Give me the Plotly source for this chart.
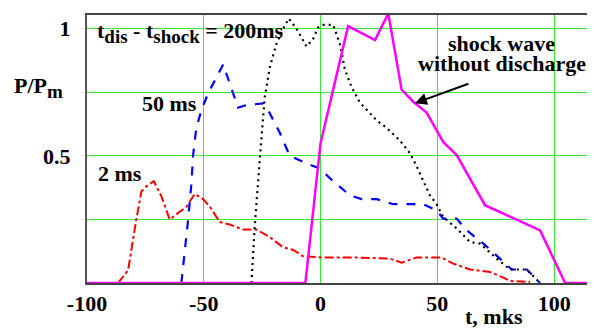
import plotly.graph_objects as go

# 2 ms delay (red dash-dot)
red_t = [-86.7, -82.4, -78.9, -76.7, -74.6, -71.4, -68.1, -64.6, -60.3, -57.4, -53.9, -50.3, -47.4,
         -43.2, -38.9, -33.2, -27.4, -21.7, -16.0, -11.7, -7.5, 1.1, 15.4, 29.7, 34.7, 41.1, 51.9,
         56.8, 64.0, 72.6, 78.3, 81.1, 89.7]
red_p = [0.0, 0.05, 0.25, 0.36, 0.38, 0.40, 0.34, 0.25, 0.28, 0.30, 0.35, 0.33, 0.30,
         0.24, 0.23, 0.21, 0.21, 0.18, 0.14, 0.13, 0.105, 0.10, 0.10, 0.096, 0.08, 0.10, 0.10,
         0.076, 0.053, 0.043, 0.021, 0.008, 0.004]

# 50 ms delay (blue dashed)
blue_t = [-59.6, -58.2, -56.7, -55.3, -54.6, -53.2, -51.0, -48.2, -44.6, -41.7, -38.9, -35.3, -31.7,
          -24.6, -21.7, -17.4, -13.2, -6.0, -0.3, 5.4, 12.6, 17.6, 24.0, 31.1, 44.0, 49.7, 52.5,
          58.3, 62.6, 69.7, 76.8, 81.8, 88.3, 94.0]
blue_p = [0.0, 0.115, 0.25, 0.39, 0.50, 0.61, 0.68, 0.745, 0.81, 0.86, 0.785, 0.69, 0.70,
          0.706, 0.667, 0.59, 0.50, 0.47, 0.45, 0.40, 0.345, 0.33, 0.33, 0.31, 0.31, 0.286, 0.253,
          0.253, 0.207, 0.155, 0.096, 0.053, 0.053, 0.0]

# 200 ms delay (black dotted)
black_t = [-29.6, -28.2, -26.0, -23.9, -21.7, -18.9, -16.0, -13.6, -10.3, -6.0, -3.2, -1.0, 1.1, 5.4,
           8.3, 10.4, 13.3, 16.8, 24.0, 28.3, 34.0, 38.3, 41.1, 44.0, 46.8, 49.7, 52.5, 58.3,
           64.0, 68.3, 75.4, 81.1, 88.3, 94.0]
black_p = [0.0, 0.22, 0.49, 0.73, 0.85, 0.94, 1.0, 1.04, 1.0, 0.93, 0.96, 1.005, 1.015, 1.015,
           0.94, 0.84, 0.77, 0.71, 0.64, 0.61, 0.56, 0.51, 0.46, 0.40, 0.345, 0.31, 0.26, 0.214,
           0.161, 0.155, 0.096, 0.053, 0.053, 0.0]

# shock wave without discharge (magenta solid)
mag_t = [-100, -6.5, 0.0, 11.8, 23.3, 29.0, 34.7, 39.7, 45.4, 52.5, 58.3, 70.4, 94.0, 104.7, 120]
mag_p = [0.0, 0.0, 0.55, 1.01, 0.955, 1.06, 0.76, 0.713, 0.67, 0.555, 0.503, 0.306, 0.207, 0.0, 0.0]

x_ticks = [-100, -50, 0, 50, 100]
x_labels = ["-100", "-50", "0", "50", "100"]
y_ticks = [0, 0.25, 0.5, 0.75, 1]
y_labels = ["", "", "0.5", "", "1"]

FONT = "Liberation Serif, Times New Roman, serif"

fig = go.Figure()
fig.add_trace(go.Scatter(x=red_t, y=red_p, mode="lines",
                         line=dict(color="#ff0000", width=2, dash="dashdot")))
fig.add_trace(go.Scatter(x=blue_t, y=blue_p, mode="lines",
                         line=dict(color="#0000ff", width=2.2, dash="dash")))
fig.add_trace(go.Scatter(x=black_t, y=black_p, mode="lines",
                         line=dict(color="#000000", width=2.2, dash="2px,4px")))
fig.add_trace(go.Scatter(x=mag_t, y=mag_p, mode="lines",
                         line=dict(color="#ff00ff", width=2.5)))

ann_font = dict(family=FONT, size=22, color="black", weight="bold")
SUB = "<sub><span style='font-size:19px'>%s</span></sub>"
fig.add_annotation(x=-96.6, y=1.05, xanchor="left", yanchor="top", showarrow=False,
                   text="t" + SUB % "dis" + " - t" + SUB % "shock" + " = 200ms", font=ann_font)
fig.add_annotation(x=-77.5, y=0.704, xanchor="left", yanchor="middle", showarrow=False,
                   text="50 ms", font=ann_font)
fig.add_annotation(x=-96.2, y=0.43, xanchor="left", yanchor="middle", showarrow=False,
                   text="2 ms", font=ann_font)
fig.add_annotation(x=77.5, y=0.943, xanchor="center", yanchor="middle", showarrow=False,
                   text="shock wave", font=ann_font)
fig.add_annotation(x=77.5, y=0.862, xanchor="center", yanchor="middle", showarrow=False,
                   text="without discharge", font=ann_font)
fig.add_annotation(x=40.4, y=0.707, ax=55, ay=-20, showarrow=True, text="",
                   arrowhead=2, arrowsize=1.2, arrowwidth=2, arrowcolor="black")
fig.add_annotation(x=-0.0945, y=0.728, xref="paper", yref="paper",
                   xanchor="center", yanchor="middle", showarrow=False,
                   text="P/P<sub><span style='font-size:19px'>m</span></sub>", font=ann_font)
fig.add_annotation(x=0.801, y=-0.124, xref="paper", yref="paper",
                   xanchor="center", yanchor="middle", showarrow=False,
                   text="t, mks", font=ann_font)

# page body has an 8px margin: shrink the figure so the plot lands where the reference has it
fig.update_layout(
    width=587, height=321,
    margin=dict(l=79, r=0, t=7, b=46),
    paper_bgcolor="white", plot_bgcolor="white",
    showlegend=False,
    font=dict(family=FONT, size=22, color="black"),
)
fig.update_xaxes(range=[-100, 117.5], tickvals=x_ticks, ticktext=x_labels,
                 showgrid=True, gridcolor="#33ee33", gridwidth=1, zeroline=False,
                 showline=True, linecolor="#444444", linewidth=1.5, mirror=True,
                 tickfont=dict(family=FONT, size=22, color="black", weight="bold"),
                 ticks="", automargin=False, fixedrange=True)
fig.update_yaxes(range=[0, 1.054], tickvals=y_ticks, ticktext=y_labels,
                 showgrid=True, gridcolor="#33ee33", gridwidth=1, zeroline=False,
                 showline=True, linecolor="#555555", linewidth=2,
                 tickfont=dict(family=FONT, size=22, color="black", weight="bold"),
                 ticks="", ticklabelstandoff=10, automargin=False, fixedrange=True)

fig.write_html("out.html")
